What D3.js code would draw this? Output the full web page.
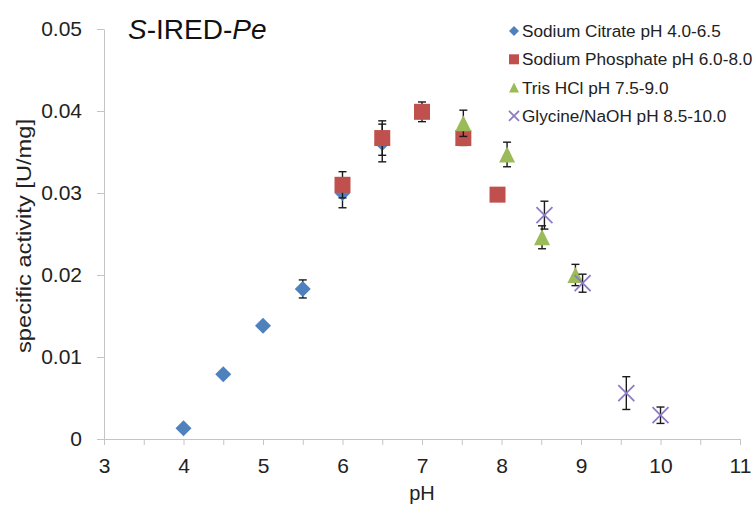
<!DOCTYPE html>
<html>
<head>
<meta charset="utf-8">
<script src="https://cdn.jsdelivr.net/npm/d3@7"></script>
<style>
  body { margin: 0; background: #fff; }
  svg { font-family: "Liberation Sans", Arial, sans-serif; }
</style>
</head>
<body>
<svg id="chart" width="754" height="507"></svg>
<script>
// values
const citratePH = [4, 4.5, 5, 5.5, 6, 6.5];
const citrateAct = [0.0013, 0.0079, 0.0138, 0.0183, 0.0300, 0.0361];
const citrateErr = [0, 0, 0, 0.0011, 0.0018, 0.0023];

const phosphatePH = [6, 6.5, 7, 7.52, 7.95];
const phosphateAct = [0.0310, 0.0367, 0.0399, 0.0367, 0.0298];
const phosphateErr = [0.0016, 0.0021, 0.0012, 0.0009, 0];

const trisPH = [7.52, 8.07, 8.51, 8.93];
const trisAct = [0.0385, 0.0347, 0.0246, 0.0200];
const trisErr = [0.0016, 0.0015, 0.0014, 0.0013];

const glycinePH = [8.54, 9.02, 9.57, 10.0];
const glycineAct = [0.0273, 0.0190, 0.0056, 0.0029];
const glycineErr = [0.0017, 0.0011, 0.0020, 0.0010];

const seriesNames = [
  'Sodium Citrate pH 4.0-6.5',
  'Sodium Phosphate pH 6.0-8.0',
  'Tris HCl pH 7.5-9.0',
  'Glycine/NaOH pH 8.5-10.0'
];
const xTicks = [3, 3.5, 4, 4.5, 5, 5.5, 6, 6.5, 7, 7.5, 8, 8.5, 9, 9.5, 10, 10.5, 11];
const yTicks = [0, 0.01, 0.02, 0.03, 0.04, 0.05];

const zip = (xs, ys, es) => xs.map((x, i) => ({ x, y: ys[i], e: es[i] }));

const series = [
  { name: seriesNames[0], shape: 'diamond', color: '#4f81bd', data: zip(citratePH, citrateAct, citrateErr) },
  { name: seriesNames[1], shape: 'square', color: '#c0504d', data: zip(phosphatePH, phosphateAct, phosphateErr) },
  { name: seriesNames[2], shape: 'triangle', color: '#9bbb59', data: zip(trisPH, trisAct, trisErr) },
  { name: seriesNames[3], shape: 'cross', color: '#8e7cc3', data: zip(glycinePH, glycineAct, glycineErr) }
];

const svg = d3.select('#chart');
const margin = { top: 29, right: 14, bottom: 68, left: 104 };
const width = +svg.attr('width') - margin.left - margin.right;
const height = +svg.attr('height') - margin.top - margin.bottom;

const x = d3.scaleLinear().domain([3, 11]).range([margin.left, margin.left + width]);
const y = d3.scaleLinear().domain([0, 0.05]).range([margin.top + height, margin.top]);

const axisColor = '#c4c4c4';

// x axis
const gx = svg.append('g')
  .attr('transform', `translate(0,${margin.top + height})`)
  .call(d3.axisBottom(x)
    .tickValues(xTicks)
    .tickSize(6)
    .tickSizeOuter(0)
    .tickPadding(13)
    .tickFormat(d => (Number.isInteger(d) ? d : '')));
gx.selectAll('path, line').attr('stroke', axisColor);
gx.selectAll('text').attr('font-size', 21).attr('fill', '#222').attr('font-family', null);

// y axis
const gy = svg.append('g')
  .attr('transform', `translate(${margin.left},0)`)
  .call(d3.axisLeft(y)
    .tickValues(yTicks)
    .tickSize(7)
    .tickSizeOuter(0)
    .tickPadding(15)
    .tickFormat(d => (d === 0 ? '0' : d3.format('.2f')(d))));
gy.selectAll('path, line').attr('stroke', axisColor);
gy.selectAll('text').attr('font-size', 21).attr('fill', '#222').attr('font-family', null);

// axis titles
svg.append('text')
  .attr('x', x(7))
  .attr('y', 500)
  .attr('text-anchor', 'middle')
  .attr('font-size', 20)
  .attr('fill', '#222')
  .text('pH');

svg.append('text')
  .attr('transform', `translate(31,${(y(0) + y(0.05)) / 2 + 2}) rotate(-90)`)
  .attr('text-anchor', 'middle')
  .attr('font-size', 20)
  .attr('fill', '#222')
  .attr('textLength', 234)
  .attr('lengthAdjust', 'spacingAndGlyphs')
  .text('specific activity [U/mg]');

// chart title
const title = svg.append('text')
  .attr('x', 128)
  .attr('y', 39)
  .attr('font-size', 28)
  .attr('fill', '#111');
title.append('tspan').attr('font-style', 'italic').text('S');
title.append('tspan').text('-IRED-');
title.append('tspan').attr('font-style', 'italic').text('Pe');

const shapePath = (shape, s) => {
  const h = s / 2;
  switch (shape) {
    case 'diamond': return `M0,${-h}L${h},0L0,${h}L${-h},0Z`;
    case 'square': return `M${-h},${-h}H${h}V${h}H${-h}Z`;
    case 'triangle': return `M0,${-h}L${h},${h}H${-h}Z`;
    default: return `M${-h},${-h}L${h},${h}M${h},${-h}L${-h},${h}`;
  }
};

const drawMarker = (g, shape, color, s) => {
  const p = g.append('path').attr('d', shapePath(shape, s));
  if (shape === 'cross') {
    p.attr('fill', 'none').attr('stroke', color).attr('stroke-width', 1.8);
  } else {
    p.attr('fill', color);
  }
};

const capW = 4;
series.forEach(s => {
  const g = svg.append('g');
  // error bars
  const bars = g.selectAll('.err')
    .data(s.data.filter(d => d.e > 0))
    .join('g')
    .attr('stroke', '#1a1a1a')
    .attr('stroke-width', 1.4);
  bars.append('line')
    .attr('x1', d => x(d.x)).attr('x2', d => x(d.x))
    .attr('y1', d => y(d.y - d.e)).attr('y2', d => y(d.y + d.e));
  bars.append('line')
    .attr('x1', d => x(d.x) - capW).attr('x2', d => x(d.x) + capW)
    .attr('y1', d => y(d.y + d.e)).attr('y2', d => y(d.y + d.e));
  bars.append('line')
    .attr('x1', d => x(d.x) - capW).attr('x2', d => x(d.x) + capW)
    .attr('y1', d => y(d.y - d.e)).attr('y2', d => y(d.y - d.e));
  // markers
  s.data.forEach(d => {
    const m = g.append('g').attr('transform', `translate(${x(d.x)},${y(d.y)})`);
    drawMarker(m, s.shape, s.color, 16);
  });
});

// legend
const legend = svg.append('g').attr('transform', 'translate(514,31)');
series.forEach((s, i) => {
  const row = legend.append('g').attr('transform', `translate(0,${i * 28.3})`);
  drawMarker(row, s.shape, s.color, 10);
  row.append('text')
    .attr('x', 8)
    .attr('dy', '0.35em')
    .attr('font-size', 17.2)
    .attr('fill', '#222')
    .text(s.name);
});
</script>
</body>
</html>
